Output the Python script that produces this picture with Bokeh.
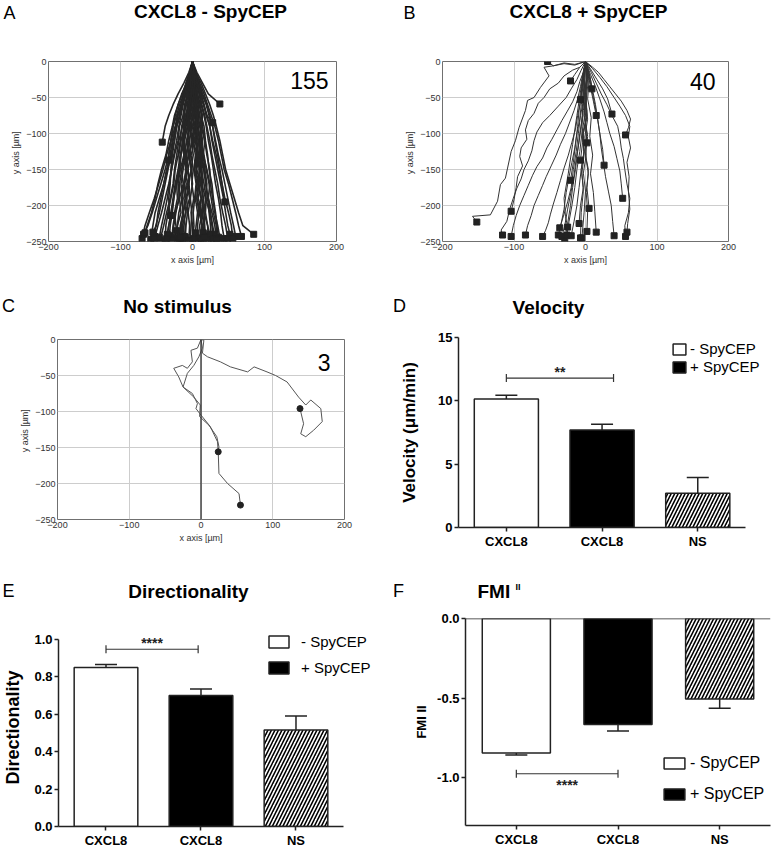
from bokeh.plotting import figure
from bokeh.models import (Range1d, FixedTicker, Label, Legend, LegendItem, Whisker,
                          TeeHead, ColumnDataSource, Span, PrintfTickFormatter)
from bokeh.layouts import column, row
from bokeh.embed import file_html
from bokeh.resources import INLINE
from bokeh.core.properties import value

FONT = "Liberation Sans"

# ------------------------------------------------------------------ data
LETTERS = ["A", "B", "C", "D", "E", "F"]
TITLES = ["CXCL8 - SpyCEP", "CXCL8 + SpyCEP", "No stimulus", "Velocity", "Directionality", "FMI"]
TRACK_X_TICKS = [-200, -100, 0, 100, 200]
TRACK_Y_TICKS = [0, -50, -100, -150, -200, -250]
COUNT_A, COUNT_B, COUNT_C = "155", "40", "3"

# Panel A: x position of each track at these y levels, then its end point
A_LEVELS = [0, -15, -30, -45, -60, -75, -90, -110, -130, -150, -170, -190, -210, -228]
A_TRACK_X = [
    [0, -4, -9, -12, -18, -22, -27, -30, -36, -41, -47, -53, -60, -66],
    [0, -2, -7, -13, -15, -21, -24, -30, -33, -38, -44, -50, -56, -62],
    [0, -3, -5, -10, -14, -17, -22, -27, -29, -35, -40, -46, -52, -55],
    [0, 1, -4, -6, -11, -13, -18, -20, -25, -29, -33, -38, -43, -48],
    [0, -1, -2, -7, -9, -12, -14, -19, -22, -25, -27, -31, -36, -40],
    [0, 2, -1, -3, -7, -8, -12, -13, -17, -20, -24, -27, -30, -33],
    [0, -1, -3, -2, -6, -5, -9, -12, -11, -15, -18, -19, -23, -26],
    [0, 1, 0, -2, -1, -4, -6, -5, -9, -8, -12, -14, -13, -17],
    [0, -2, -1, -3, -2, -3, -1, -4, -3, -6, -5, -8, -7, -9],
    [0, 0, 2, 1, 3, 0, 2, -1, 1, -2, 0, -3, -1, -2],
    [0, 2, 1, 3, 4, 3, 6, 4, 7, 5, 8, 6, 9, 7],
    [0, 1, 4, 3, 6, 8, 7, 10, 12, 11, 14, 13, 16, 17],
    [0, 3, 2, 6, 8, 10, 12, 11, 15, 17, 19, 21, 23, 25],
    [0, 2, 5, 7, 11, 12, 16, 18, 21, 23, 27, 29, 32, 34],
    [0, 3, 6, 9, 12, 16, 19, 22, 26, 29, 32, 36, 39, 41],
    [0, 4, 8, 11, 16, 19, 24, 27, 31, 35, 39, 43, 46, 49],
    [0, 3, 9, 13, 19, 23, 28, 32, 36, 41, 45, 49, 53, 57],
    [0, 5, 10, 16, 21, 26, 31, 36, 40, 44, 50, 55, 60, 64],
    [0, 4, 12, 18, 24, 29, 33, 38, 42, 46, 52, 58, 64, 70],
    [0, -3, -8, -15, -20, -25, -28, -33, -37, -43, -48, -52, -57, -63],
    [0, -1, -6, -10, -16, -20, -23, -28, -31, -36, -40, -44, -48, -50],
    [0, 1, -2, -5, -4, -8, -10, -14, -16, -18, -22, -21, -25, -23],
    [0, 2, 4, 3, 6, 5, 8, 10, 9, 13, 12, 15, 14, 16],
    [0, -2, 0, 2, 1, 4, 3, 6, 5, 3, 6, 4, 7, 5],
    [0, 1, 3, 5, 4, 8, 10, 13, 12, 16, 18, 22, 25, 28],
    [0, -2, -4, -8, -10, -11, -15, -17, -20, -24, -26, -30, -34, -37],
    [0, 2, 3, 7, 9, 13, 14, 17, 20, 24, 25, 28, 31, 35],
    [0, -1, 1, -1, 2, 0, 3, 1, 4, 2, 5, 3, 1, 2],
    [0, 3, -2, 4, -3, 2, -5, 1, -6, -1, -8, -4, -10, -12],
    [0, -3, 2, -4, 3, -2, 5, 0, 7, 3, 9, 6, 11, 13],
    [0, 4, 7, 5, 10, 14, 12, 17, 15, 20, 24, 22, 27, 31],
    [0, -4, -6, -5, -10, -13, -11, -16, -19, -17, -22, -26, -28, -31],
    [0, 2, -3, -1, -5, -9, -7, -11, -9, -13, -16, -14, -19, -21],
    [0, -1, 4, 2, 6, 9, 7, 11, 14, 12, 16, 19, 18, 21],
    [0, 6, 14, 22],
    [0, -5, -12, -20, -27, -33, -38],
    [0, -3, -9, -14, -20, -24, -27, -30, -33],
    [0, 4, 9, 14, 20, 24, 28, 31, 35, 38, 41, 44],
    [0, -2, -7, -11, -16, -18, -22, -25, -28, -30, -31, -33, -32],
    [0, 3, 7, 12, 16, 20],
    [0, -2, 1, -4, -1, -6, -3, -8, -5, -10, -7, -12, -9, -14],
    [0, 1, -3, 0, -5, -2, -7, -4, -9, -6, -11, -8, -13, -10],
    [0, -1, 3, 0, 5, 2, 7, 4, 9, 6, 11, 8, 13, 10],
    [0, 2, -1, 4, 1, 6, 3, 8, 5, 10, 7, 12, 9, 14],
    [0, -3, -1, -6, -4, -9, -7, -12, -10, -15, -13, -18, -16, -21],
    [0, 3, 1, 6, 4, 9, 7, 12, 10, 15, 13, 18, 16, 21],
    [0, -2, -5, -3, -8, -6, -11, -14, -12, -17, -20, -18, -24, -27],
    [0, 2, 5, 3, 8, 6, 11, 14, 12, 17, 20, 18, 24, 27],
    [0, -1, -4, -7, -5, -10, -13, -11, -16, -19, -23, -26, -29, -33],
    [0, 1, 4, 7, 5, 10, 13, 11, 16, 19, 23, 26, 29, 33],
    [0, 0, -2, 1, -1, 2, 0, 3, -2, 1, -1, 2, -2, 0],
    [0, 1, -1, 2, -2, 0, -3, -1, -4, -2, -5, -3, -6, -4],
    [0, -1, 2, 4, 3, 6, 5, 8, 7, 10, 9, 12, 11, 13],
    [0, 2, 0, -3, -2, -5, -4, -7, -6, -9, -11, -10, -13, -15],
    [0, -2, -6, -9, -13, -16, -19, -22, -26, -29, -32, -35, -39, -43],
    [0, 3, 6, 10, 13, 17, 20, 24, 27, 31, 35, 38, 42, 46],
    [0, -3, -7, -11, -15, -18, -22, -25, -30, -34, -38, -42, -46, -51],
    [0, 2, 7, 11, 15, 20, 24, 28, 33, 37, 41, 45, 50, 54],
    [0, -2, -3, -1, -4, -7, -5, -8, -11, -9, -12, -15, -13, -16],
    [0, 2, 3, 1, 4, 7, 5, 8, 11, 9, 12, 15, 13, 16],
]
A_END_X = [-70, -68, -58, -52, -45, -35, -28, -18, -10, -3, 8, 18, 26, 36, 44, 52, 60, 68, 85,
           -66, -55, -22, 15, 4, 30, -38, 39, 0, -14, 12, 33, -32, -20, 22,
           38, -42, -33, 45, -30, 28,
           -13, -11, 11, 15, -24, 24, -29, 29, -36, 34, 1, -5, 12, -16, -46, 49, -54, 56, -17, 17]
A_END_Y = [-246, -240, -247, -243, -248, -240, -245, -248, -244, -248, -246, -243, -248, -244,
           -246, -240, -243, -243, -240, -238, -237, -235, -238, -238, -240, -250, -250, -250,
           -246, -248, -246, -242, -246, -247,
           -59, -112, -137, -195, -214, -85,
           -247, -243, -245, -247, -244, -240, -248, -247, -246, -248, -246, -249, -250, -250,
           -244, -246, -246, -247, -244, -244]

# Panel B: full tracks
B_TRACK_X = [
    [0, -15, -30, -45, -58, -51, -63, -72, -81, -84, -93, -98, -104, -109, -112, -119, -123, -133, -158, -152],
    [0, -8, -18, -30, -38, -50, -58, -66, -72, -80, -84, -82, -90, -92, -88, -95, -97, -100, -104],
    [0, -6, -12, -20, -27, -38, -50, -60, -68, -72, -75, -80, -86, -90, -96, -101, -106, -110, -118, -116],
    [0, -3, -8, -12, -18, -26, -33, -40, -47, -54, -60, -68, -74, -80, -86, -92, -97, -101, -104],
    [0, -4, -7, -11, -16, -22, -28, -35, -41, -48, -55, -60, -66, -72, -76, -81, -84],
    [0, -2, -5, -7, -11, -14, -19, -24, -30, -35, -40, -45, -49, -52, -56, -60],
    [0, -3, -2, -6, -8, -12, -15, -19, -23, -27, -30, -34, -38],
    [0, 2, -1, -4, -6, -9, -13, -16, -20, -25, -29, -33],
    [0, -3, -5, -4, -8, -11, -14, -18, -21, -25, -29],
    [0, 1, -2, -1, -5, -8, -12, -15, -19, -23, -26],
    [0, -2, 1, 2, -3, -2, -6, -9, -12, -16, -20],
    [0, -4, -2, -7, -10, -13, -17, -20, -25, -30, -36],
    [0, 3, -1, 2, -4, -2, -6, -3, -7, -9],
    [0, -1, -3, 1, -4, -2, -5, -3, -6, -7],
    [0, 2, 0, 3, -1, 1, -3, 0, -2, -5],
    [0, 4, 1, -1, 3, 0, 4, 1, 3, 2],
    [0, 5, 3, 8, 6, 10, 7, 11, 13, 15],
    [0, 6, 10, 14, 17, 20, 22, 25, 28, 32, 36, 38, 40],
    [0, 8, 15, 22, 30, 37, 45, 48, 50, 53, 55, 58, 62, 60, 55, 56],
    [0, 10, 20, 30, 40, 48, 56, 62, 60, 63, 58, 61, 60, 62, 59, 58],
    [0, 7, 14, 20, 26, 30, 34, 40, 44, 48, 50, 52],
    [0, -3, 1, -2, 2, -1, 4, 2, 5],
    [0, -4, -6, -9, -11, -14, -17, -21],
    [0, -2, 1, -3, -5, -4, -7],
    [0, 5, 9, 13, 17, 20, 24, 26],
    [0, 10, 18, 26, 34, 42, 50, 58, 63, 60, 56],
    [0, 3, -1, 2, 0, 2],
    [0, 4, 7, 11, 15],
    [0, 8, 16, 24, 31, 37],
    [0, -3, -5, -7],
    [0, -8, -15, -21],
    [0, 4, 7, 9],
    [0, -15, -30, -45, -53],
    [0, -6, -12, -18, -24, -30, -28, -25],
]
B_TRACK_Y = [
    [0, -4, -2, -6, -8, -20, -36, -50, -54, -68, -92, -110, -125, -148, -162, -171, -194, -213, -215, -223],
    [0, -8, -12, -20, -30, -38, -50, -58, -72, -82, -95, -108, -120, -132, -145, -160, -175, -192, -208],
    [0, -12, -25, -38, -50, -62, -75, -85, -98, -110, -124, -138, -150, -163, -176, -190, -205, -222, -234, -241],
    [0, -15, -28, -42, -56, -70, -82, -95, -108, -120, -134, -146, -158, -172, -186, -200, -214, -228, -243],
    [0, -18, -35, -52, -68, -84, -100, -115, -130, -145, -160, -172, -186, -200, -214, -228, -241],
    [0, -20, -38, -56, -75, -94, -112, -130, -148, -165, -182, -198, -212, -224, -235, -243],
    [0, -20, -40, -60, -80, -100, -120, -140, -160, -182, -205, -225, -241],
    [0, -22, -45, -68, -90, -112, -135, -158, -180, -205, -228, -243],
    [0, -25, -50, -75, -100, -125, -150, -175, -200, -225, -248],
    [0, -25, -50, -75, -100, -125, -150, -175, -200, -222, -241],
    [0, -25, -50, -75, -100, -125, -150, -175, -200, -222, -242],
    [0, -25, -50, -75, -100, -125, -150, -175, -195, -212, -231],
    [0, -25, -50, -75, -100, -125, -150, -175, -200, -225],
    [0, -28, -55, -80, -105, -130, -155, -180, -210, -245],
    [0, -28, -55, -80, -105, -130, -155, -180, -210, -245],
    [0, -26, -52, -78, -104, -130, -156, -182, -208, -236],
    [0, -26, -52, -78, -104, -130, -156, -182, -208, -237],
    [0, -20, -40, -60, -80, -100, -120, -140, -160, -180, -200, -222, -242],
    [0, -15, -30, -45, -60, -75, -90, -105, -120, -135, -150, -170, -190, -210, -228, -243],
    [0, -10, -22, -35, -50, -62, -75, -90, -105, -120, -140, -160, -180, -205, -225, -237],
    [0, -18, -35, -52, -70, -85, -100, -118, -135, -152, -170, -190],
    [0, -25, -50, -75, -100, -125, -150, -175, -204],
    [0, -22, -45, -68, -90, -115, -140, -165],
    [0, -22, -45, -68, -90, -112, -137],
    [0, -20, -40, -60, -80, -100, -122, -144],
    [0, -8, -15, -25, -35, -45, -55, -68, -80, -92, -102],
    [0, -22, -45, -68, -90, -113],
    [0, -18, -36, -55, -75],
    [0, -12, -25, -38, -52, -73],
    [0, -18, -35, -53],
    [0, -8, -18, -27],
    [0, -12, -25, -38],
    [0, -5, -3, -6, 0],
    [0, -35, -75, -115, -155, -190, -215, -230],
]

# Panel C: three tracks
C_TRACK_X = [
    [0, -5, -14, -12, -19, -26, -38, -31, -25, -10, -1, -2, 11, 22, 25, 24],
    [0, 2, -3, -10, -19, -25, -12, -5, -7, 0, 13, 23, 24, 25, 37, 53, 55],
    [0, 4, 2, 9, 27, 41, 65, 74, 92, 104, 120, 136, 146, 153, 167, 169, 157, 146, 139, 143, 138],
]
C_TRACK_Y = [
    [0, -12, -15, -31, -40, -36, -40, -52, -66, -80, -91, -107, -119, -135, -149, -156],
    [0, -12, -24, -36, -47, -66, -75, -89, -96, -105, -121, -142, -156, -186, -200, -214, -230],
    [0, -1, -19, -24, -31, -38, -45, -38, -45, -50, -59, -80, -91, -84, -96, -114, -126, -135, -131, -117, -96],
]

# Bar panels
CATEGORIES = ["CXCL8", "CXCL8", "NS"]
X_POS = [1, 2, 3]
SERIES = ["- SpyCEP", "+ SpyCEP"]
VEL_MEAN = [10.15, 7.7, 2.7]
VEL_ERR_END = [10.45, 8.15, 3.95]
DIR_MEAN = [0.85, 0.70, 0.515]
DIR_ERR_END = [0.865, 0.735, 0.59]
FMI_MEAN = [-0.845, -0.665, -0.505]
FMI_ERR_END = [-0.857, -0.706, -0.564]
VEL_SIG_Y, VEL_SIG_X, VEL_SIG_TEXT = 11.8, [1.0, 2.12], "**"
DIR_SIG_Y, DIR_SIG_X, DIR_SIG_TEXT = 0.947, [1.0, 1.97], "****"
FMI_SIG_Y, FMI_SIG_X, FMI_SIG_TEXT = -0.975, [1.0, 2.0], "****"
VEL_TICKS = [0, 5, 10, 15]
DIR_TICKS = [0.0, 0.2, 0.4, 0.6, 0.8, 1.0]
FMI_TICKS = [0.0, -0.5, -1.0]


# ------------------------------------------------------------------ helpers
COMMON = dict(output_backend="svg", toolbar_location=None, frame_align=False)


def header(w, h, items):
    """items: (x, y, text, size, bold, align)  in pixels of this strip"""
    p = figure(width=w, height=h, x_range=Range1d(0, w), y_range=Range1d(0, h),
               min_border=0, **COMMON)
    p.axis.visible = False
    p.grid.visible = False
    p.outline_line_color = None
    for x, y, t, size, bold, align in items:
        p.text(x=[x], y=[y], text=[t], text_font=value(FONT), text_font_size=f"{size}px",
               text_font_style="bold" if bold else "normal", text_align=align,
               text_baseline="middle", text_color="black")
    return p


def put(p, frame, px, py, text, size, align="center"):
    fl, fb = frame
    p.add_layout(Label(x=px - fl, y=fb - py, x_units="screen", y_units="screen", text=text,
                       text_font=FONT, text_font_size=f"{size}px", text_align=align,
                       text_baseline="middle", text_color="black"))


def track_fig(w, h, bl, br, bt, bb):
    p = figure(width=w, height=h, x_range=Range1d(-200, 200), y_range=Range1d(-250, 0),
               min_border_left=bl, min_border_right=br, min_border_top=bt,
               min_border_bottom=bb, **COMMON)
    p.outline_line_color = "#707070"
    p.outline_line_width = 1
    p.xaxis.ticker = FixedTicker(ticks=TRACK_X_TICKS)
    p.yaxis.ticker = FixedTicker(ticks=TRACK_Y_TICKS)
    p.xgrid.grid_line_color = "#cdcdcd"
    p.ygrid.grid_line_color = "#cdcdcd"
    for ax in p.axis:
        ax.axis_line_color = None
        ax.major_tick_out = 0
        ax.major_tick_in = 0
        ax.minor_tick_out = 0
        ax.minor_tick_in = 0
        ax.major_label_text_font = FONT
        ax.major_label_text_font_size = "9px"
        ax.major_label_text_color = "#333333"
        ax.major_label_standoff = 2
        ax.axis_label_text_font = FONT
        ax.axis_label_text_font_size = "9px"
        ax.axis_label_text_font_style = "normal"
        ax.axis_label_text_color = "#333333"
        ax.axis_label_standoff = 2
    p.xaxis.axis_label = "x axis [\u00b5m]"
    p.yaxis.axis_label = "y axis  [\u00b5m]"
    return p


def bar_fig(w, h, bl, br, bt, bb, xr, yr, xb, yb, ticks, fmt, ylabel, ylabel_size, ylabel_standoff):
    p = figure(width=w, height=h, x_range=Range1d(*xr), y_range=Range1d(*yr),
               min_border_left=bl, min_border_right=br, min_border_top=bt,
               min_border_bottom=bb, **COMMON)
    p.outline_line_color = None
    p.grid.visible = False
    p.xaxis.ticker = FixedTicker(ticks=X_POS)
    p.xaxis.major_label_overrides = {x: c for x, c in zip(X_POS, CATEGORIES)}
    p.xaxis.bounds = xb
    p.yaxis.bounds = yb
    p.yaxis.ticker = FixedTicker(ticks=ticks)
    if fmt:
        p.yaxis.formatter = PrintfTickFormatter(format=fmt)
    for ax in p.axis:
        ax.axis_line_color = "#222222"
        ax.axis_line_width = 1.5
        ax.major_tick_line_color = "#222222"
        ax.major_tick_line_width = 1.5
        ax.major_tick_out = 4
        ax.major_tick_in = 0
        ax.minor_tick_line_color = None
        ax.major_label_text_font = FONT
        ax.major_label_text_font_size = "13px"
        ax.major_label_text_font_style = "bold"
        ax.major_label_text_color = "black"
        ax.major_label_standoff = 2
    p.yaxis.axis_label = ylabel
    p.yaxis.axis_label_text_font = FONT
    p.yaxis.axis_label_text_font_size = f"{ylabel_size}px"
    p.yaxis.axis_label_text_font_style = "bold"
    p.yaxis.axis_label_text_color = "black"
    p.yaxis.axis_label_standoff = ylabel_standoff
    return p


def draw_bars(p, means, err_end, negative=False):
    rs = []
    styles = [dict(fill_color="white"), dict(fill_color="black"),
              dict(fill_color="white", hatch_pattern="/", hatch_color="black",
                   hatch_scale=7, hatch_weight=1.6)]
    for i in range(3):
        if negative:
            r = p.vbar(x=[X_POS[i]], top=[0], bottom=[means[i]], width=0.67,
                       line_color="#222222", line_width=1.5, **styles[i])
        else:
            r = p.vbar(x=[X_POS[i]], top=[means[i]], bottom=[0], width=0.67,
                       line_color="#222222", line_width=1.5, **styles[i])
        rs.append(r)
    if negative:
        src = ColumnDataSource(dict(x=X_POS, lo=err_end, hi=means))
        p.add_layout(Whisker(source=src, base="x", lower="lo", upper="hi", dimension="height",
                             line_color="#222222", line_width=1.5, upper_head=None,
                             lower_head=TeeHead(size=22, line_color="#222222", line_width=1.5)))
    else:
        src = ColumnDataSource(dict(x=X_POS, lo=means, hi=err_end))
        p.add_layout(Whisker(source=src, base="x", lower="lo", upper="hi", dimension="height",
                             line_color="#222222", line_width=1.5, lower_head=None,
                             upper_head=TeeHead(size=22, line_color="#222222", line_width=1.5)))
    return rs


def draw_sig(p, y, xs, text, above=True):
    src = ColumnDataSource(dict(b=[y], lo=[xs[0]], hi=[xs[1]]))
    p.add_layout(Whisker(source=src, base="b", lower="lo", upper="hi", dimension="width",
                         line_color="#333333", line_width=1.2,
                         lower_head=TeeHead(size=8, line_color="#333333", line_width=1.2),
                         upper_head=TeeHead(size=8, line_color="#333333", line_width=1.2)))
    p.text(x=[(xs[0] + xs[1]) / 2], y=[y], text=[text], text_align="center",
           text_baseline="bottom" if above else "top", text_font=value(FONT),
           text_font_size="14px", text_font_style="bold", text_color="#222222",
           y_offset=2 if above else 3)


def legend(p, rs, loc, gw, gh, lh, spacing, standoff, size):
    leg = Legend(items=[LegendItem(label=SERIES[0], renderers=[rs[0]]),
                        LegendItem(label=SERIES[1], renderers=[rs[1]])],
                 location=loc, glyph_width=gw, glyph_height=gh, label_height=lh,
                 spacing=spacing, label_standoff=standoff, padding=0, margin=0,
                 border_line_color=None, background_fill_alpha=0,
                 label_text_font=FONT, label_text_font_size=f"{size}px",
                 label_text_color="black")
    p.add_layout(leg)


def tracks(p, xs, ys, ex, ey, marker, color, lw):
    p.multi_line(xs=xs, ys=ys, line_color=color, line_width=lw)
    p.scatter(x=ex, y=ey, marker=marker, size=6, fill_color="#222222", line_color="#222222")


# ------------------------------------------------------------------ row 1
hA = header(390, 28, [(9, 16, LETTERS[0], 18, False, "center"),
                      (210, 17, TITLES[0], 19, True, "center")])
hB = header(387, 28, [(19, 16, LETTERS[1], 18, False, "center"),
                      (198, 17, TITLES[1], 19, True, "center")])

FA = (48, 241 - 28)
pA = track_fig(390, 262, 48, 54, 33, 49)
a_xs = [tx + [ex] for tx, ex in zip(A_TRACK_X, A_END_X)]
a_ys = [A_LEVELS[:len(tx)] + [ey] for tx, ey in zip(A_TRACK_X, A_END_Y)]
tracks(pA, a_xs, a_ys, A_END_X, A_END_Y, "square", "#262626", 1.6)
put(pA, FA, 328, 80 - 28, COUNT_A, 23, align="right")

FB = (52, 241 - 28)
pB = track_fig(387, 262, 52, 49, 33, 49)
tracks(pB, B_TRACK_X, B_TRACK_Y, [t[-1] for t in B_TRACK_X], [t[-1] for t in B_TRACK_Y],
       "square", "#333333", 1.0)
put(pB, FB, 715 - 390, 81 - 28, COUNT_B, 23, align="right")

# ------------------------------------------------------------------ row 2
hC = header(390, 32, [(8, 17, LETTERS[2], 18, False, "center"),
                      (177, 16, TITLES[2], 19, True, "center")])
hD = header(387, 32, [(9, 17, LETTERS[3], 18, False, "center"),
                      (158, 15, TITLES[3], 19, True, "center")])

FC = (57, 519 - 322)
pC = track_fig(390, 258, 57, 46, 17, 61)
pC.add_layout(Span(location=0, dimension="height", line_color="#3a3a3a", line_width=1.4))
tracks(pC, C_TRACK_X, C_TRACK_Y, [t[-1] for t in C_TRACK_X], [t[-1] for t in C_TRACK_Y],
       "circle", "#555555", 1.0)
put(pC, FC, 330, 362 - 322, COUNT_C, 23, align="right")

pD = bar_fig(387, 258, 68, 7, 15, 53, (0.5, 3.76), (0, 15), (0.5, 3.5), (0, 15),
             VEL_TICKS, None, "Velocity (\u03bcm/min)", 17, 16)
rD = draw_bars(pD, VEL_MEAN, VEL_ERR_END)
draw_sig(pD, VEL_SIG_Y, VEL_SIG_X, VEL_SIG_TEXT, above=True)
legend(pD, rD, (213, 152), 16, 14, 14, 1, 3, 15)

# ------------------------------------------------------------------ row 3
hE = header(390, 22, [(8, 12, LETTERS[4], 18, False, "center"),
                      (188, 11, TITLES[4], 19, True, "center")])
hF = header(387, 22, [(8, 12, LETTERS[5], 18, False, "center"),
                      (87, 11, TITLES[5], 19, True, "left"),
                      (125, 16, "II", 9, True, "left")])

pE = bar_fig(390, 248, 58, 15, 26, 22, (0.5, 3.837), (0, 1.058), (0.5, 3.5), (0, 1.0),
             DIR_TICKS, "%.1f", "Directionality", 18, 8)
rE = draw_bars(pE, DIR_MEAN, DIR_ERR_END)
draw_sig(pE, DIR_SIG_Y, DIR_SIG_X, DIR_SIG_TEXT, above=True)
legend(pE, rE, (208, 150), 25, 15, 15, 9, 10, 15)

pF = bar_fig(387, 248, 75, 7, 16, 25, (0.5, 3.5), (-1.3, 0), (0.5, 3.5), (-1.3, 0),
             FMI_TICKS, "%.1f", "FMI II", 13, 5)
pF.add_layout(Span(location=0, dimension="width", line_color="#222222", line_width=1.5))
rF = draw_bars(pF, FMI_MEAN, FMI_ERR_END, negative=True)
draw_sig(pF, FMI_SIG_Y, FMI_SIG_X, FMI_SIG_TEXT, above=False)
legend(pF, rF, (196, 22), 26, 14, 14, 13, 3, 16)

layout = column(
    row(column(hA, pA), column(hB, pB)),
    row(column(hC, pC), column(hD, pD)),
    row(column(hE, pE), column(hF, pF)),
)
open("out.html", "w").write(file_html(layout, INLINE))
